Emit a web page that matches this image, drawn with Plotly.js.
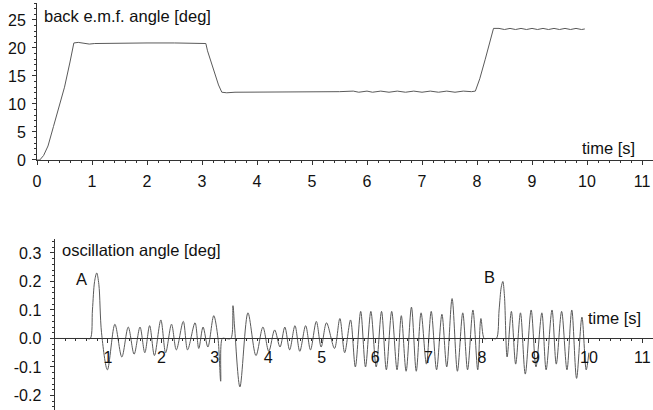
<!DOCTYPE html>
<html>
<head>
<meta charset="utf-8">
<script src="https://cdn.plot.ly/plotly-3.0.1.min.js"></script>
<style>html,body{margin:0;padding:0;background:#fff;}#chart{width:653px;height:410px;}</style>
</head>
<body>
<div id="chart"></div>
<script>
// ---- top panel: back e.m.f. angle [deg] vs time [s]
const emfTime = [0, 0.05, 0.12, 0.2, 0.3, 0.4, 0.5, 0.6, 0.67, 0.75, 0.85, 0.95, 1.05, 1.5, 2.0, 2.5, 3.0, 3.07,
  3.1, 3.2, 3.3, 3.36, 3.45, 3.6, 4.0, 4.5, 5.0, 5.5, 5.75, 5.85, 6.0, 6.1, 6.25, 6.4, 6.55, 6.7, 6.85, 7.0, 7.15,
  7.3, 7.45, 7.6, 7.75, 7.9, 7.97, 8.05, 8.15, 8.25, 8.3, 8.4, 8.5, 8.6, 8.7, 8.8, 8.9, 9.0, 9.1, 9.2, 9.3, 9.4,
  9.5, 9.6, 9.7, 9.8, 9.9, 9.96];
const emfAngle = [0, 0, 0.8, 2.5, 6, 9.5, 13, 17.5, 20.9, 21.0, 20.9, 20.7, 20.8, 20.9, 20.9, 20.9, 20.9, 20.8,
  19.5, 16.5, 13.4, 12.1, 12.0, 12.1, 12.1, 12.2, 12.2, 12.2, 12.3, 12.1, 12.3, 12.1, 12.3, 12.1, 12.3, 12.1, 12.3, 12.1, 12.3,
  12.1, 12.3, 12.1, 12.3, 12.2, 12.3, 14.5, 18.0, 21.8, 23.5, 23.5, 23.3, 23.5, 23.3, 23.5, 23.3, 23.5, 23.3, 23.5, 23.3, 23.5,
  23.3, 23.5, 23.3, 23.5, 23.3, 23.4];

// ---- bottom panel: oscillation angle [deg] vs time [s]
const oscTime = [0, 0.3, 0.6, 0.67, 0.71, 0.75, 0.79, 0.83, 0.88, 0.99, 1.13, 1.26, 1.38, 1.49, 1.6, 1.69, 1.78, 1.87, 1.99, 2.08, 2.19, 2.28,
  2.41, 2.49, 2.63, 2.7, 2.78, 2.87, 2.98, 3.06, 3.11, 3.14, 3.2, 3.3, 3.34, 3.37, 3.47, 3.62, 3.77, 3.9, 4.01, 4.12,
  4.22, 4.31, 4.4, 4.5, 4.59, 4.7, 4.79, 4.9, 4.99, 5.09, 5.24, 5.34, 5.43, 5.54, 5.63, 5.73, 5.82, 5.92, 6.02,
  6.12, 6.21, 6.31, 6.41, 6.49, 6.58, 6.68, 6.77, 6.86, 6.96, 7.05, 7.15, 7.25, 7.34, 7.44, 7.54, 7.64, 7.73,
  7.83, 7.92, 7.98, 8.04, 8.1, 8.2, 8.27, 8.32, 8.36, 8.39, 8.42, 8.47, 8.55, 8.63, 8.72, 8.81, 8.92, 9.01, 9.12, 9.2, 9.31, 9.39, 9.49,
  9.59, 9.68, 9.77, 9.87, 9.95, 10.0];
const oscAngle = [0, 0, 0, 0, 0.1, 0.2, 0.23, 0.19, 0.02, -0.11, 0.05, -0.065, 0.04, -0.055, 0.04, -0.05, 0.045, -0.06, 0.065, -0.05, 0.05, -0.04,
  0.06, -0.04, 0.055, -0.035, 0.04, -0.03, 0.08, 0, -0.15, 0, 0, 0, 0.115, 0.04, -0.17, 0.09, -0.06, 0.04, -0.045, 0.03,
  -0.03, 0.04, -0.04, 0.045, -0.045, 0.045, -0.04, 0.06, -0.03, 0.055, -0.035, 0.07, -0.05, 0.065, -0.10, 0.095, -0.10, 0.095, -0.10,
  0.095, -0.11, 0.095, -0.11, 0.08, -0.115, 0.11, -0.115, 0.09, -0.09, 0.095, -0.11, 0.085, -0.10, 0.14, -0.115, 0.09, -0.11,
  0.10, -0.11, 0.07, 0, 0, 0, 0, 0.1, 0.18, 0.20, 0.15, -0.065, 0.095, -0.09, 0.09, -0.125, 0.10, -0.10, 0.09, -0.11, 0.10, -0.09, 0.095,
  -0.11, 0.10, -0.14, 0.075, -0.11, -0.05];

// ---- tick labels
const topXTicks = [0, 1, 2, 3, 4, 5, 6, 7, 8, 9, 10, 11];
const topYTicks = [0, 5, 10, 15, 20, 25];
const botXTicks = [1, 2, 3, 4, 5, 6, 7, 8, 9, 10, 11];
const botYTicks = [-0.2, -0.1, 0.0, 0.1, 0.2, 0.3];
const botYLabels = ['-0.2', '-0.1', '0.0', '0.1', '0.2', '0.3'];

const FONT = 'Liberation Sans, Arial, Helvetica, sans-serif';
const lineCol = '#5a5a5a';
const axisCol = '#333';

const traces = [
  {x: emfTime, y: emfAngle, xaxis: 'x', yaxis: 'y', type: 'scatter', mode: 'lines',
   line: {color: lineCol, width: 1}, hoverinfo: 'skip'},
  {x: oscTime, y: oscAngle, xaxis: 'x2', yaxis: 'y2', type: 'scatter', mode: 'lines',
   line: {color: lineCol, width: 1, shape: 'spline', smoothing: 0.9}, hoverinfo: 'skip'}
];

const tickFont = {family: FONT, size: 16, color: '#111'};
const annFont = {family: FONT, size: 16.5, color: '#111'};

const layout = {
  width: 653, height: 410,
  margin: {l: 0, r: 0, t: 0, b: 0},
  paper_bgcolor: '#fff', plot_bgcolor: 'rgba(0,0,0,0)',
  showlegend: false,
  font: {family: FONT, size: 16, color: '#111'},
  xaxis: {
    domain: [37/653, 1], range: [0, 11.2], anchor: 'y',
    tickvals: topXTicks, ticks: 'outside', ticklen: 4, tickcolor: axisCol,
    minor: {dtick: 0.2, ticklen: 2, ticks: 'outside', tickcolor: axisCol},
    showline: true, linecolor: axisCol, linewidth: 1,
    showgrid: false, zeroline: false, tickfont: tickFont, ticklabelstandoff: 3
  },
  yaxis: {
    domain: [0.6098, 0.9922], range: [0, 28], anchor: 'x',
    tickvals: topYTicks, ticks: 'outside', ticklen: 4, tickcolor: axisCol,
    minor: {dtick: 1, ticklen: 2, ticks: 'outside', tickcolor: axisCol},
    showline: true, linecolor: axisCol, linewidth: 1,
    showgrid: false, zeroline: false, tickfont: tickFont, ticklabelstandoff: 3
  },
  xaxis2: {
    domain: [54.5/653, 1], range: [0, 11.2], anchor: 'free', position: 0.1744,
    tickvals: botXTicks, ticks: 'outside', ticklen: 4, tickcolor: axisCol,
    minor: {dtick: 0.2, ticklen: 2, ticks: 'outside', tickcolor: axisCol},
    showline: true, linecolor: axisCol, linewidth: 1,
    showgrid: false, zeroline: false, tickfont: tickFont, ticklabelstandoff: 0
  },
  yaxis2: {
    domain: [0, 0.4177], range: [-0.251, 0.35], anchor: 'x2',
    tickvals: botYTicks, ticktext: botYLabels, ticks: 'outside', ticklen: 4, tickcolor: axisCol,
    minor: {dtick: 0.02, ticklen: 2, ticks: 'outside', tickcolor: axisCol},
    showline: true, linecolor: axisCol, linewidth: 1,
    showgrid: false, zeroline: false, tickfont: tickFont, ticklabelstandoff: 5
  },
  annotations: [
    {text: 'back e.m.f. angle [deg]', xref: 'x', yref: 'y', x: 0.09, y: 25.7, xanchor: 'left', yanchor: 'middle', showarrow: false, font: annFont},
    {text: 'time [s]', xref: 'x', yref: 'y', x: 10.9, y: 2.1, xanchor: 'right', yanchor: 'middle', showarrow: false, font: annFont},
    {text: 'oscillation angle [deg]', xref: 'x2', yref: 'y2', x: 0.1, y: 0.31, xanchor: 'left', yanchor: 'middle', showarrow: false, font: annFont},
    {text: 'time [s]', xref: 'x2', yref: 'y2', x: 9.95, y: 0.072, xanchor: 'left', yanchor: 'middle', showarrow: false, font: annFont},
    {text: 'A', xref: 'x2', yref: 'y2', x: 0.51, y: 0.21, xanchor: 'center', yanchor: 'middle', showarrow: false, font: annFont},
    {text: 'B', xref: 'x2', yref: 'y2', x: 8.14, y: 0.216, xanchor: 'center', yanchor: 'middle', showarrow: false, font: annFont}
  ]
};

Plotly.newPlot('chart', traces, layout, {staticPlot: true, displayModeBar: false});
</script>
</body>
</html>
